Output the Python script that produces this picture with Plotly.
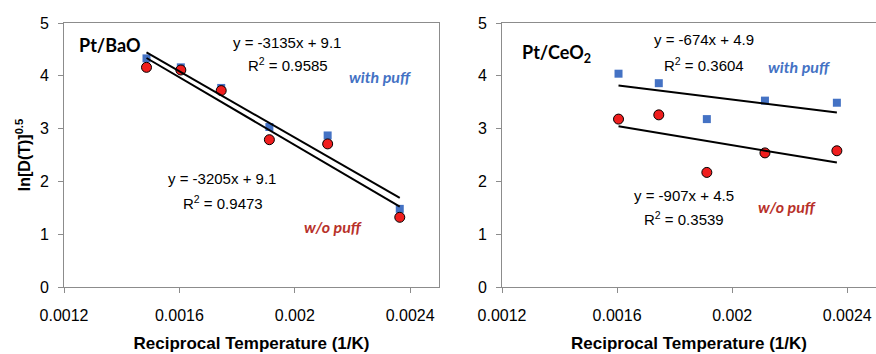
import plotly.graph_objects as go

# Reciprocal temperature (1/K) for the measurement temperatures
x_bao = [0.001486, 0.001605, 0.001745, 0.001912, 0.002114, 0.002364]
x_ceo2 = [0.001605, 0.001745, 0.001912, 0.002114, 0.002364]

# ln[D(T)]^0.5 values
bao_with_puff = [4.33, 4.16, 3.77, 3.03, 2.87, 1.48]
bao_without_puff = [4.16, 4.11, 3.72, 2.79, 2.71, 1.32]
ceo2_with_puff = [4.04, 3.86, 3.18, 3.53, 3.49]
ceo2_without_puff = [3.18, 3.26, 2.17, 2.54, 2.58]

# Linear fits (slope, intercept, R^2)
fit_bao_with = (-3135, 9.1, 0.9585)
fit_bao_without = (-3205, 9.1, 0.9473)
fit_ceo2_with = (-674, 4.9, 0.3604)
fit_ceo2_without = (-907, 4.5, 0.3539)

x_ticks = [0.0012, 0.0016, 0.002, 0.0024]
x_tick_text = ["0.0012", "0.0016", "0.002", "0.0024"]
y_ticks = [0, 1, 2, 3, 4, 5]

BLUE = "#4472C4"
RED = "#F01E1E"
DARKRED = "#B8312A"
AXIS = "#8C8C8C"
FONT = "Liberation Sans, Arial, sans-serif"
LABEL_FONT = "Lato, Carlito, Calibri, sans-serif"

W, H = 876, 354


def px_x(p):
    return p / W


def px_y(p):
    return 1 - p / H


fig = go.Figure()


def add_panel(xs, with_vals, without_vals, fit_with, fit_without, xa, ya):
    fig.add_trace(go.Scatter(x=xs, y=with_vals, mode="markers", xaxis=xa, yaxis=ya,
                             marker=dict(symbol="square", size=8, color=BLUE),
                             showlegend=False))
    fig.add_trace(go.Scatter(x=xs, y=without_vals, mode="markers", xaxis=xa, yaxis=ya,
                             marker=dict(symbol="circle", size=10, color=RED,
                                         line=dict(color="black", width=1)),
                             showlegend=False))
    xe = [min(xs), max(xs)]
    for m, b, _ in (fit_with, fit_without):
        fig.add_trace(go.Scatter(x=xe, y=[m * v + b for v in xe], mode="lines",
                                 xaxis=xa, yaxis=ya,
                                 line=dict(color="black", width=2),
                                 showlegend=False))


add_panel(x_bao, bao_with_puff, bao_without_puff, fit_bao_with, fit_bao_without, "x", "y")
add_panel(x_ceo2, ceo2_with_puff, ceo2_without_puff, fit_ceo2_with, fit_ceo2_without, "x2", "y2")

axis_common = dict(
    showline=True, linecolor=AXIS, linewidth=1, showgrid=False, zeroline=False,
    ticks="outside", ticklen=5, tickcolor=AXIS, tickwidth=1, automargin=False,
    tickfont=dict(family=FONT, size=16, color="black"),
)

xdom1 = [px_x(64), px_x(439)]
xdom2 = [px_x(502), px_x(876)]
ydom = [px_y(287), px_y(23)]

xtitle = dict(text="<b>Reciprocal Temperature (1/K)</b>",
              font=dict(family=FONT, size=17, color="black"), standoff=13)

fig.update_layout(
    width=W, height=H, margin=dict(l=0, r=0, t=0, b=0),
    paper_bgcolor="white", plot_bgcolor="white",
    xaxis=dict(domain=xdom1, range=[0.0012, 0.0025], tickvals=x_ticks, ticktext=x_tick_text,
               anchor="y", mirror=True, ticklabelstandoff=9, title=xtitle, **axis_common),
    yaxis=dict(domain=ydom, range=[0, 5], tickvals=y_ticks, anchor="x", mirror=True,
               ticklabelstandoff=6,
               title=dict(text="<b>ln[D(T)]<sup>0.5</sup></b>",
                          font=dict(family=FONT, size=16, color="black"), standoff=5),
               **axis_common),
    xaxis2=dict(domain=xdom2, range=[0.0012, 0.0025], tickvals=x_ticks, ticktext=x_tick_text,
                anchor="y2", mirror=True, ticklabelstandoff=9, title=xtitle, **axis_common),
    yaxis2=dict(domain=ydom, range=[0, 5], tickvals=y_ticks, anchor="x2",
                ticklabelstandoff=6, **axis_common),
)


def note(text, x, y, xa, ya, font, xanchor="center"):
    fig.add_annotation(text=text, x=x, y=y, xref=xa, yref=ya, showarrow=False,
                       xanchor=xanchor, yanchor="middle", font=font)


eq_font = dict(family=FONT, size=15, color="black")
title_font = dict(family=LABEL_FONT, size=18, color="black")
blue_font = dict(family=LABEL_FONT, size=16, color=BLUE, weight="bold", style="italic")
red_font = dict(family=LABEL_FONT, size=16, color=DARKRED, weight="bold", style="italic")


def eq_text(fit):
    m, b, _ = fit
    return f"y = {m}x + {b}"


def r2_text(fit):
    return f"R<sup>2</sup> = {fit[2]}"


# Pt/BaO panel labels
note("<b>Pt/BaO</b>", 0.001245, 4.58, "x", "y", title_font, xanchor="left")
note(eq_text(fit_bao_with), 0.001973, 4.64, "x", "y", eq_font)
note(r2_text(fit_bao_with), 0.001977, 4.22, "x", "y", eq_font)
note("with puff", 0.002295, 3.98, "x", "y", blue_font)
note(eq_text(fit_bao_without), 0.001748, 2.05, "x", "y", eq_font)
note(r2_text(fit_bao_without), 0.001751, 1.60, "x", "y", eq_font)
note("w/o puff", 0.002133, 1.14, "x", "y", red_font)

# Pt/CeO2 panel labels
note("<b>Pt/CeO<sub>2</sub></b>", 0.0012626, 4.43, "x2", "y2", title_font, xanchor="left")
note(eq_text(fit_ceo2_with), 0.001902, 4.68, "x2", "y2", eq_font)
note(r2_text(fit_ceo2_with), 0.001902, 4.22, "x2", "y2", eq_font)
note("with puff", 0.002232, 4.17, "x2", "y2", blue_font)
note(eq_text(fit_ceo2_without), 0.001833, 1.74, "x2", "y2", eq_font)
note(r2_text(fit_ceo2_without), 0.001833, 1.29, "x2", "y2", eq_font)
note("w/o puff", 0.002191, 1.52, "x2", "y2", red_font)

fig.write_html("out.html")
